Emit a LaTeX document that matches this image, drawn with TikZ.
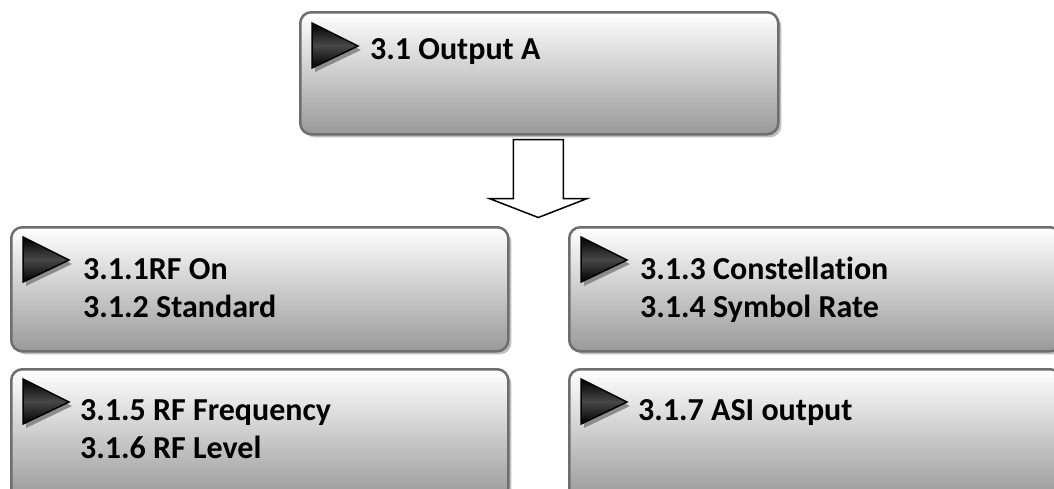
\documentclass[tikz,border=0pt]{standalone}
\usepackage{fontspec}
\setmainfont{Carlito}[Ligatures=NoCommon]
\usetikzlibrary{calc,positioning}

\tikzset{
  menubox/.style={draw=black!57, line width=2.5pt, rounded corners=11pt,
    top color=white, bottom color=black!40, anchor=north west, inner sep=0pt,
    minimum width=497pt, minimum height=124pt,
    preaction={fill=black!25, transform canvas={xshift=3pt,yshift=-3pt}}},
  menutext/.style={font=\bfseries\fontsize{32}{38}\selectfont, anchor=base west, inner sep=0pt},
}

% black pointer with its shadow
\newcommand\pointer[1]{%
  \fill[black!45] ($#1+(3,4)$) -- ++(0,45) -- ++(46,-22) -- cycle;
  \draw[line width=1.5pt, top color=black, bottom color=black, middle color=black!72]
    #1 -- ++(0,45) -- ++(46,-22) -- cycle;
}

\begin{document}
\begin{tikzpicture}[x=1pt,y=-1pt]
\useasboundingbox (0,0) rectangle (1054,488);
\clip (0,0) rectangle (1054,488);

% Menu boxes
\node[menubox, minimum width=478pt, minimum height=122pt] (out) at (299,11) {};
\node[menubox] (rfon) at (10,226) {};
\node[menubox, minimum width=492pt] (const) at (568,226) {};
\node[menubox, minimum height=130pt] (freq) at (10,368) {};
\node[menubox, minimum width=492pt, minimum height=130pt] (asi) at (568,368) {};

% Pointers
\pointer{($(out.north west)+(13,12)$)}
\pointer{($(rfon.north west)+(13,11)$)}
\pointer{($(const.north west)+(13,11)$)}
\pointer{($(freq.north west)+(13,11)$)}
\pointer{($(asi.north west)+(13,11)$)}

% Texts
\node[menutext] (outA) at ($(out.north west)+(71,48)$) {3.1 Output A};

\node[menutext] (rfonA) at ($(rfon.north west)+(73,53)$) {3.1.1RF On};
\node[menutext] (rfonB) at ($(rfonA.base west)+(0,38)$) {3.1.2 Standard};

\node[menutext] (constA) at ($(const.north west)+(72,53)$) {3.1.3 Constellation};
\node[menutext] (constB) at ($(constA.base west)+(0,38)$) {3.1.4 Symbol Rate};

\node[menutext] (freqA) at ($(freq.north west)+(70,52)$) {3.1.5 RF Frequency};
\node[menutext] (freqB) at ($(freqA.base west)+(0,38)$) {3.1.6 RF Level};

\node[menutext] (asiA) at ($(asi.north west)+(70,52)$) {3.1.7 ASI output};

% Down arrow
\draw[line width=1.5pt, fill=white]
  ($(out.south)+(-26,4)$) -- ++(0,59) -- ++(-24,0)
  -- ($(out.south)+(-1,82)$)
  -- ($(out.south)+(48,63)$) -- ++(-24,0) -- ($(out.south)+(24,4)$) -- cycle;

\end{tikzpicture}
\end{document}
